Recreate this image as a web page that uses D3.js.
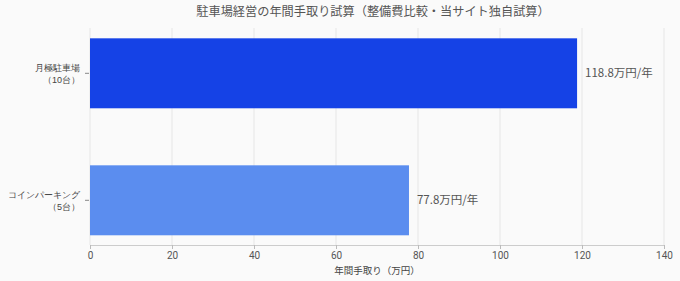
<!DOCTYPE html>
<html>
<head>
<meta charset="utf-8">
<script src="https://cdn.jsdelivr.net/npm/d3@7"></script>
<style>
  html, body { margin: 0; padding: 0; background: #fafafa; }
  svg { display: block; font-family: "Noto Sans CJK JP", "Noto Sans", sans-serif; }
</style>
</head>
<body>
<svg id="chart" width="680" height="281"></svg>
<script>
const chartTitle = "駐車場経営の年間手取り試算（整備費比較・当サイト独自試算）";
const categories = [["月極駐車場", "（10台）"], ["コインパーキング", "（5台）"]];
const values = [118.8, 77.8];
const valueLabels = ["118.8万円/年", "77.8万円/年"];
const barColors = ["#1542e6", "#5b8def"];
const xTicks = [0, 20, 40, 60, 80, 100, 120, 140];
const xTitle = "年間手取り（万円）";

(function () {
const svg = d3.select("#chart");
const W = 680, H = 281;
const mLeft = 90, mRight = 664, mTop = 28, mBottom = 245;

svg.append("rect").attr("width", W).attr("height", H).attr("fill", "#fafafa");

const x = d3.scaleLinear().domain([0, 140]).range([mLeft, mRight]);
const y = d3.scaleBand().domain(d3.range(categories.length)).range([9.8, 263.8]).paddingInner(0.449).paddingOuter(0.2245);

// gridlines
svg.append("g").selectAll("line").data(xTicks).join("line")
  .attr("x1", d => x(d)).attr("x2", d => x(d))
  .attr("y1", mTop).attr("y2", mBottom)
  .attr("stroke", "#e6e6e6").attr("stroke-width", 1);

// bars
svg.append("g").selectAll("rect").data(values).join("rect")
  .attr("x", x(0))
  .attr("y", (d, i) => y(i))
  .attr("width", d => x(d) - x(0))
  .attr("height", y.bandwidth())
  .attr("fill", (d, i) => barColors[i]);

// value labels
svg.append("g").selectAll("text").data(values).join("text")
  .attr("x", d => x(d) + 8)
  .attr("y", (d, i) => y(i) + y.bandwidth() / 2)
  .attr("dy", "0.35em")
  .attr("font-size", 11.5)
  .attr("fill", "#555")
  .text((d, i) => valueLabels[i]);

// x axis
const xAxis = d3.axisBottom(x).tickValues(xTicks).tickSize(4).tickPadding(3);
const gx = svg.append("g").attr("transform", `translate(0,${mBottom})`).call(xAxis);
gx.select(".domain").attr("stroke", "#cccccc");
gx.selectAll(".tick line").attr("stroke", "#bbbbbb");
gx.selectAll(".tick text").attr("fill", "#555").attr("font-size", 10)
  .attr("font-family", "Roboto, 'Noto Sans', sans-serif");

svg.append("text")
  .attr("x", (mLeft + mRight) / 2).attr("y", 274)
  .attr("text-anchor", "middle").attr("font-size", 9.5).attr("fill", "#444")
  .text(xTitle);

// y axis
const yAxis = d3.axisLeft(y).tickSize(4).tickPadding(5).tickFormat(() => "");
const gy = svg.append("g").attr("transform", `translate(${mLeft - 1},0)`).call(yAxis);
gy.select(".domain").remove();
gy.selectAll(".tick line").attr("stroke", "#888");
gy.selectAll(".tick").each(function(d) {
  const t = d3.select(this).append("text")
    .attr("text-anchor", "end")
    .attr("font-size", 9).attr("fill", "#444");
  t.append("tspan").attr("x", -9).attr("y", -2).text(categories[d][0]);
  t.append("tspan").attr("x", -9).attr("y", 10).text(categories[d][1]);
});

// title
svg.append("text")
  .attr("x", (mLeft + mRight) / 2 - 4).attr("y", 16)
  .attr("text-anchor", "middle").attr("font-size", 12.2).attr("fill", "#555")
  .text(chartTitle);
})();
</script>
</body>
</html>
